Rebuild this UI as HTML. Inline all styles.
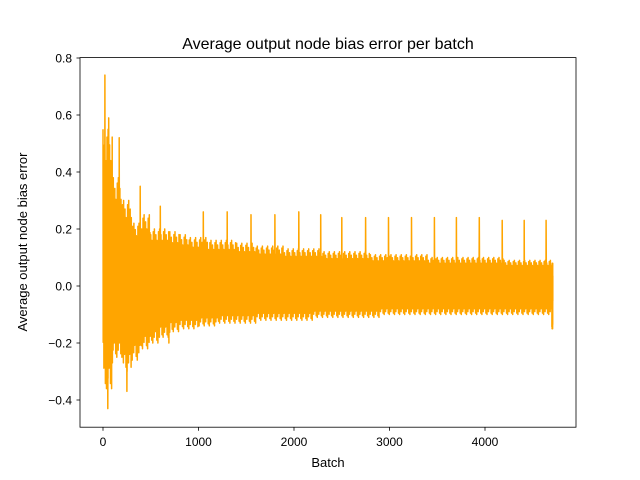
<!DOCTYPE html>
<html><head><meta charset="utf-8"><style>
body{margin:0;background:#fff;}
svg{display:block;font-family:"Liberation Sans","DejaVu Sans",sans-serif;}
</style></head><body>
<svg id="chart" width="640" height="480" viewBox="0 0 640 480">
<rect width="640" height="480" fill="#fff"/>
<g id="plot"></g>
<rect x="80" y="57.6" width="496" height="369.6" fill="none" stroke="#000" stroke-width="0.8"/>
<g id="xt"></g>
<g id="yt"></g>
<text x="328" y="49" text-anchor="middle" font-size="16">Average output node bias error per batch</text>
<text x="328" y="467" text-anchor="middle" font-size="13">Batch</text>
<text transform="translate(27,242) rotate(-90)" text-anchor="middle" font-size="13">Average output node bias error</text>
</svg>
<script>
const binStarts=[0,100,200,300,400,500,600,700,800,900,1000,1100,1200,1300,1400,1500,1600,1700,1800,1900,2000,2100,2200,2300,2400,2500,2600,2700,2800,2900,3000,3100,3200,3300,3400,3500,3600,3700,3800,3900,4000,4100,4200,4300,4400,4500,4600,4700];
const binHigh=[0.55,0.38,0.3,0.22,0.25,0.2,0.2,0.19,0.18,0.17,0.17,0.16,0.16,0.16,0.15,0.15,0.14,0.14,0.14,0.13,0.13,0.13,0.13,0.12,0.12,0.12,0.12,0.12,0.11,0.11,0.11,0.11,0.11,0.11,0.1,0.1,0.1,0.1,0.1,0.1,0.1,0.1,0.09,0.09,0.09,0.09,0.09,0.08];
const binLow=[-0.36,-0.25,-0.3,-0.26,-0.22,-0.2,-0.18,-0.16,-0.15,-0.15,-0.14,-0.14,-0.13,-0.13,-0.13,-0.13,-0.12,-0.12,-0.12,-0.12,-0.12,-0.12,-0.11,-0.11,-0.11,-0.11,-0.11,-0.11,-0.11,-0.1,-0.1,-0.1,-0.1,-0.1,-0.1,-0.1,-0.1,-0.1,-0.1,-0.1,-0.1,-0.1,-0.1,-0.1,-0.1,-0.1,-0.1,-0.15];
const spikeX=[20,50,60,170,250,390,600,690,1050,1300,1550,1800,2050,2280,2500,2750,2990,3230,3470,3700,3940,4180,4410,4640];
const spikeY=[0.74,-0.43,0.59,0.52,-0.37,0.35,0.28,-0.2,0.26,0.26,0.25,0.25,0.26,0.25,0.24,0.24,0.24,0.24,0.24,0.24,0.24,0.23,0.23,0.23];
const xTicks=[0,1000,2000,3000,4000];
const yTicks=[-0.4,-0.2,0.0,0.2,0.4,0.6,0.8];
const xs=v=>103+v*0.0955;
const ys=v=>286-v*285;
const NS="http://www.w3.org/2000/svg";
const plot=document.getElementById('plot');
const shape=[1,0.45,0.75,0.3,0.9,0.55,0.35,0.8,0.5,0.65,0.4,0.95,0.3,0.6];
let pts=[];
const steps=26;
let c=0;
for(let b=0;b<binStarts.length;b++){
  const w=(b+1<binStarts.length?binStarts[b+1]:4710)-binStarts[b];
  for(let k=0;k<steps;k++){
    const x=binStarts[b]+w*k/steps;
    pts.push([x,binHigh[b]*shape[c%shape.length]]);
    pts.push([x+w/(2*steps),binLow[b]*shape[(c+5)%shape.length]]);
    c++;
  }
}
for(let i=0;i<spikeX.length;i++){
  let j=pts.findIndex(p=>p[0]>=spikeX[i]);
  if(j<0)continue;
  pts.splice(j,0,[spikeX[i],spikeY[i]],[spikeX[i]+3,0]);
}
const line=document.createElementNS(NS,'polyline');
line.setAttribute('points',pts.map(p=>xs(p[0]).toFixed(1)+','+ys(p[1]).toFixed(1)).join(' '));
line.setAttribute('fill','none');line.setAttribute('stroke','#ffa500');line.setAttribute('stroke-width','1.5');line.setAttribute('stroke-linejoin','round');


plot.appendChild(line);
const xt=document.getElementById('xt');
xTicks.forEach(t=>{
  const l=document.createElementNS(NS,'line');
  l.setAttribute('x1',xs(t));l.setAttribute('x2',xs(t));l.setAttribute('y1',427.2);l.setAttribute('y2',430.7);l.setAttribute('stroke','#000');l.setAttribute('stroke-width','0.8');
  
  
  xt.appendChild(l);
  const tx=document.createElementNS(NS,'text');
  tx.setAttribute('x',xs(t));tx.setAttribute('y',446);tx.setAttribute('text-anchor','middle');tx.setAttribute('font-size','12');
  tx.textContent=t;
  
  
  xt.appendChild(tx);
});
const yt=document.getElementById('yt');
yTicks.forEach(t=>{
  const l=document.createElementNS(NS,'line');
  l.setAttribute('x1',76.5);l.setAttribute('x2',80);l.setAttribute('y1',ys(t));l.setAttribute('y2',ys(t));l.setAttribute('stroke','#000');l.setAttribute('stroke-width','0.8');
  
  
  yt.appendChild(l);
  const tx=document.createElementNS(NS,'text');
  tx.setAttribute('x',72);tx.setAttribute('y',ys(t)+4.5);tx.setAttribute('text-anchor','end');tx.setAttribute('font-size','12');
  tx.textContent=(t<0?'\u2212':'')+Math.abs(t).toFixed(1);
  
  
  yt.appendChild(tx);
});
</script>
</body></html>
